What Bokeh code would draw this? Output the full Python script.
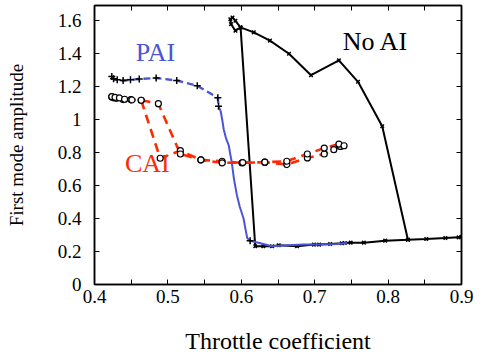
from bokeh.plotting import figure
from bokeh.models import Range1d, FixedTicker, LinearAxis, Label
from bokeh.embed import file_html
from bokeh.resources import INLINE

# No AI (black, x markers, solid)
noai_x = [0.900, 0.896, 0.878, 0.852, 0.827, 0.796, 0.767, 0.749, 0.741, 0.737, 0.721, 0.706, 0.699,
          0.676, 0.651, 0.642, 0.630, 0.619, 0.599, 0.592, 0.586, 0.585, 0.588, 0.592, 0.599,
          0.617, 0.639, 0.665, 0.695, 0.733, 0.759, 0.792, 0.827]
noai_y = [0.290, 0.286, 0.282, 0.276, 0.272, 0.266, 0.254, 0.254, 0.252, 0.250, 0.246, 0.242, 0.242,
          0.232, 0.238, 0.232, 0.232, 0.232, 1.560, 1.540, 1.580, 1.610, 1.620, 1.600, 1.560,
          1.530, 1.480, 1.400, 1.270, 1.360, 1.230, 0.960, 0.272]

# PAI (blue): dashed upper branch with black + markers, solid lower branch
pai_top_x = [0.4236, 0.426, 0.431, 0.439, 0.449, 0.461, 0.484, 0.512, 0.540, 0.568, 0.569]
pai_top_y = [1.262, 1.248, 1.242, 1.238, 1.242, 1.247, 1.253, 1.238, 1.206, 1.133, 1.082]
pai_low_x = [0.569, 0.572, 0.574, 0.576, 0.579, 0.583, 0.585, 0.587, 0.590, 0.594, 0.598, 0.603,
             0.606, 0.608, 0.612, 0.619, 0.630, 0.642, 0.662, 0.685, 0.708, 0.731, 0.744]
pai_low_y = [1.082, 1.050, 1.000, 0.942, 0.890, 0.842, 0.790, 0.742, 0.640, 0.542, 0.470, 0.402,
             0.330, 0.282, 0.266, 0.258, 0.246, 0.232, 0.238, 0.242, 0.242, 0.246, 0.252]
pai_mark_x = pai_top_x + [0.612]
pai_mark_y = pai_top_y + [0.266]

# CAI (red dashed, open circles), two branches
cai1_x = [0.4236, 0.426, 0.430, 0.439, 0.4495, 0.4636, 0.4895, 0.517, 0.545, 0.574, 0.601, 0.632,
          0.662, 0.690, 0.713, 0.726, 0.735]
cai1_y = [1.138, 1.133, 1.130, 1.122, 1.122, 1.118, 0.766, 0.812, 0.756, 0.748, 0.738, 0.742,
          0.728, 0.768, 0.792, 0.818, 0.838]
cai2_x = [0.4236, 0.428, 0.434, 0.441, 0.451, 0.4636, 0.487, 0.517, 0.545, 0.574, 0.602, 0.632,
          0.662, 0.690, 0.713, 0.733, 0.740]
cai2_y = [1.140, 1.136, 1.132, 1.124, 1.120, 1.118, 1.097, 0.792, 0.756, 0.738, 0.740, 0.742,
          0.748, 0.792, 0.828, 0.852, 0.842]

x_ticks = [0.4, 0.5, 0.6, 0.7, 0.8, 0.9]
x_minor = [0.45, 0.55, 0.65, 0.75, 0.85]
y_ticks = [0, 0.2, 0.4, 0.6, 0.8, 1.0, 1.2, 1.4, 1.6]
y_tick_labels = {0: "0", 0.2: "0.2", 0.4: "0.4", 0.6: "0.6", 0.8: "0.8", 1.0: "1", 1.2: "1.2", 1.4: "1.4", 1.6: "1.6"}

FONT = "'Liberation Serif', 'Times New Roman', serif"
RED = "#ff2a00"
BLUE = "#4a55d8"

p = figure(width=482, height=356, output_backend="svg", toolbar_location=None,
           x_range=Range1d(0.4, 0.9), y_range=Range1d(0, 1.693),
           min_border_left=94, min_border_right=21, min_border_top=5, min_border_bottom=69)
p.xaxis.visible = False
p.yaxis.visible = False
p.grid.visible = False
p.outline_line_color = "black"
p.outline_line_width = 1.5
p.background_fill_color = "white"
p.border_fill_color = "white"

def style_axis(ax, labels=True):
    ax.axis_line_color = "black"
    ax.axis_line_width = 1.5
    ax.major_tick_in = 5
    ax.major_tick_out = 0
    ax.minor_tick_in = 5
    ax.minor_tick_out = 0
    ax.major_tick_line_color = "black"
    ax.minor_tick_line_color = "black"
    if labels:
        ax.major_label_text_font = FONT
        ax.major_label_text_font_size = "19px"
        ax.major_label_text_color = "black"
        ax.axis_label_text_font = FONT
        ax.axis_label_text_font_style = "normal"
        ax.axis_label_text_color = "black"
    else:
        ax.major_label_standoff = 0

xt = FixedTicker(ticks=x_ticks, minor_ticks=x_minor)
yt = FixedTicker(ticks=y_ticks, minor_ticks=[])

xb = LinearAxis(ticker=xt, axis_label="Throttle coefficient")
style_axis(xb)
xb.axis_label_text_font_size = "24px"
xb.major_label_standoff = 5
xb.axis_label_standoff = 22
p.add_layout(xb, "below")

yl = LinearAxis(ticker=yt, axis_label="First mode amplitude", major_label_overrides=y_tick_labels)
style_axis(yl)
yl.axis_label_text_font_size = "19px"
yl.major_label_standoff = 13
yl.axis_label_standoff = 28
p.add_layout(yl, "left")

xa = LinearAxis(ticker=FixedTicker(ticks=x_ticks, minor_ticks=x_minor),
                major_label_overrides={t: "" for t in x_ticks})
style_axis(xa, labels=False)
p.add_layout(xa, "above")

yr = LinearAxis(ticker=FixedTicker(ticks=y_ticks, minor_ticks=[]),
                major_label_overrides={t: "" for t in y_ticks})
style_axis(yr, labels=False)
p.add_layout(yr, "right")

# No AI
p.line(noai_x, noai_y, line_color="black", line_width=2)
p.scatter(noai_x, noai_y, marker="x", size=5, line_color="black", line_width=1.5)

# PAI
p.line(pai_top_x, pai_top_y, line_color=BLUE, line_width=2.4, line_dash="7 4")
p.line(pai_low_x, pai_low_y, line_color=BLUE, line_width=2)
p.scatter(pai_mark_x, pai_mark_y, marker="cross", size=7, line_color="black", line_width=1.5)

# CAI
p.line(cai1_x, cai1_y, line_color=RED, line_width=2.6, line_dash="9 6")
p.line(cai2_x, cai2_y, line_color=RED, line_width=2.6, line_dash="9 6")
p.scatter(cai1_x, cai1_y, marker="circle", size=6, fill_color="white", line_color="black", line_width=1.2)
p.scatter(cai2_x, cai2_y, marker="circle", size=6, fill_color="white", line_color="black", line_width=1.2)

p.add_layout(Label(x=0.483, y=1.41, text="PAI", text_font=FONT, text_font_size="26px",
                   text_color=BLUE, text_align="center", text_baseline="middle"))
p.add_layout(Label(x=0.783, y=1.476, text="No AI", text_font=FONT, text_font_size="26px",
                   text_color="black", text_align="center", text_baseline="middle"))
p.add_layout(Label(x=0.472, y=0.732, text="CAI", text_font=FONT, text_font_size="26px",
                   text_color=RED, text_align="center", text_baseline="middle"))

open("out.html", "w").write(file_html(p, INLINE))
